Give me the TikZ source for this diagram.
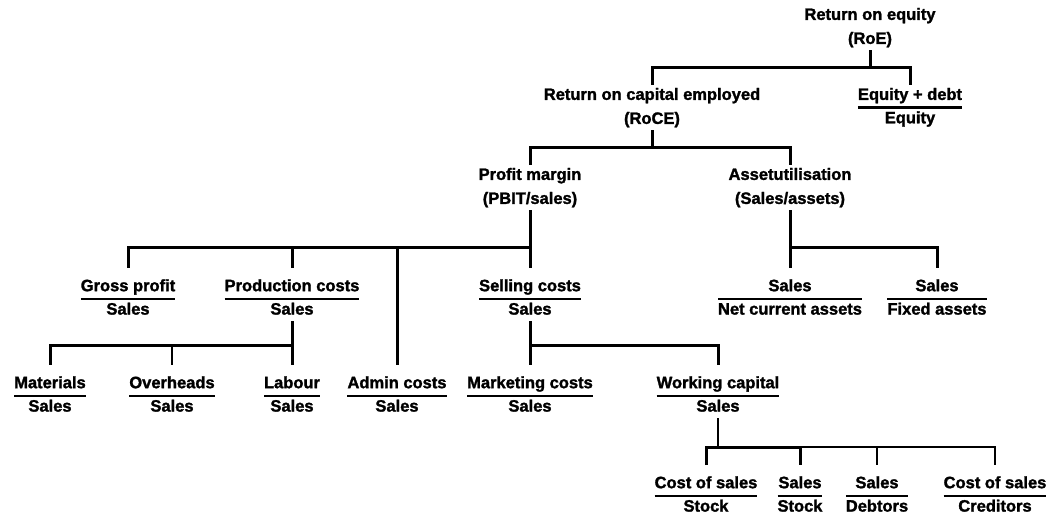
\documentclass[tikz,border=0pt]{standalone}
\usepackage{fontspec}
\setmainfont{Liberation Sans}[BoldFeatures={FakeBold=1.6}]
\setlength{\arrayrulewidth}{2.4pt}
\newcommand{\ratiobox}[3][23pt]{\begin{tabular}{@{}c@{}}\rule{0pt}{#1}#2\\\hline #3\end{tabular}}
\newcommand{\titlebox}[2]{\begin{tabular}{@{}c@{}}#1\\[3pt]#2\end{tabular}}
\tikzset{
  lbl/.style={inner sep=0pt, anchor=north, font=\fontsize{16.5}{21}\selectfont\bfseries},
  link/.style={line width=3pt},
  thinlink/.style={line width=1.9pt}
}
\begin{document}
\begin{tikzpicture}[x=1pt, y=-1pt]
  \useasboundingbox (0,0) rectangle (1060,516);
  % bus levels
  \coordinate (b0) at (0,68);
  \coordinate (b1) at (0,148);
  \coordinate (b2) at (0,247);
  \coordinate (b3) at (0,345);
  \coordinate (b4) at (0,447);

  \node[lbl] (roe) at (870,5) {\titlebox{Return on equity}{(RoE)}};
  \node[lbl] (roce) at (652,85) {\titlebox{Return on capital employed}{(RoCE)}};
  \node[lbl] (eqd) at (910,85) {\ratiobox[14.7pt]{Equity + debt}{Equity}};
  \node[lbl] (pm) at (530,165) {\titlebox{Profit margin}{(PBIT/sales)}};
  \node[lbl] (au) at (790,165) {\titlebox{Assetutilisation}{(Sales/assets)}};

  \node[lbl] (gp) at (128,268) {\ratiobox{Gross profit}{Sales}};
  \node[lbl] (pc) at (292,268) {\ratiobox{Production costs}{Sales}};
  \node[lbl] (sc) at (530,268) {\ratiobox{Selling costs}{Sales}};
  \node[lbl] (nca) at (790,268) {\ratiobox{Sales}{Net current assets}};
  \node[lbl] (fa) at (937,268) {\ratiobox{Sales}{Fixed assets}};

  \node[lbl] (mat) at (50,365) {\ratiobox{Materials}{Sales}};
  \node[lbl] (ovh) at (172,365) {\ratiobox{Overheads}{Sales}};
  \node[lbl] (lab) at (292,365) {\ratiobox{Labour}{Sales}};
  \node[lbl] (adm) at (397,365) {\ratiobox{Admin costs}{Sales}};
  \node[lbl] (mkt) at (530,365) {\ratiobox{Marketing costs}{Sales}};
  \node[lbl] (wc) at (718,365) {\ratiobox{Working capital}{Sales}};

  \node[lbl] (css) at (706,465) {\ratiobox{Cost of sales}{Stock}};
  \node[lbl] (sst) at (800,465) {\ratiobox{Sales}{Stock}};
  \node[lbl] (sdb) at (877,465) {\ratiobox{Sales}{Debtors}};
  \node[lbl] (csc) at (995,465) {\ratiobox{Cost of sales}{Creditors}};

  % RoE
  \draw[link] (roe.south) -- (roe.south |- b0);
  \draw[link] (roce.north) |- (b0 -| eqd.north) -- (eqd.north);
  % RoCE
  \draw[link] (roce.south) -- (roce.south |- b1);
  \draw[link] (pm.north) |- (b1 -| au.north) -- (au.north);
  % profit margin
  \draw[link] (pm.south) -- (sc.north);
  \draw[link] (pm.south |- b2) -| (gp.north);
  \draw[link] (b2 -| pc.north) -- (pc.north);
  \draw[link] (b2 -| adm.north) -- (adm.north);
  % asset utilisation
  \draw[link] (au.south) -- (nca.north);
  \draw[link] (au.south |- b2) -| (fa.north);
  % production costs
  \draw[link] (pc.south) -- (lab.north);
  \draw[link] (pc.south |- b3) -| (mat.north);
  \draw[thinlink] (b3 -| ovh.north) -- (ovh.north);
  % selling costs
  \draw[link] (sc.south) -- (mkt.north);
  \draw[link] (sc.south |- b3) -| (wc.north);
  % working capital
  \draw[thinlink] (wc.south) -- (wc.south |- b4);
  \draw[link] (css.north) |- (b4 -| sst.north) -- (sst.north);
  \draw[thinlink] (b4 -| sst.north) -| (csc.north);
  \draw[thinlink] (b4 -| sdb.north) -- (sdb.north);
\end{tikzpicture}
\end{document}
